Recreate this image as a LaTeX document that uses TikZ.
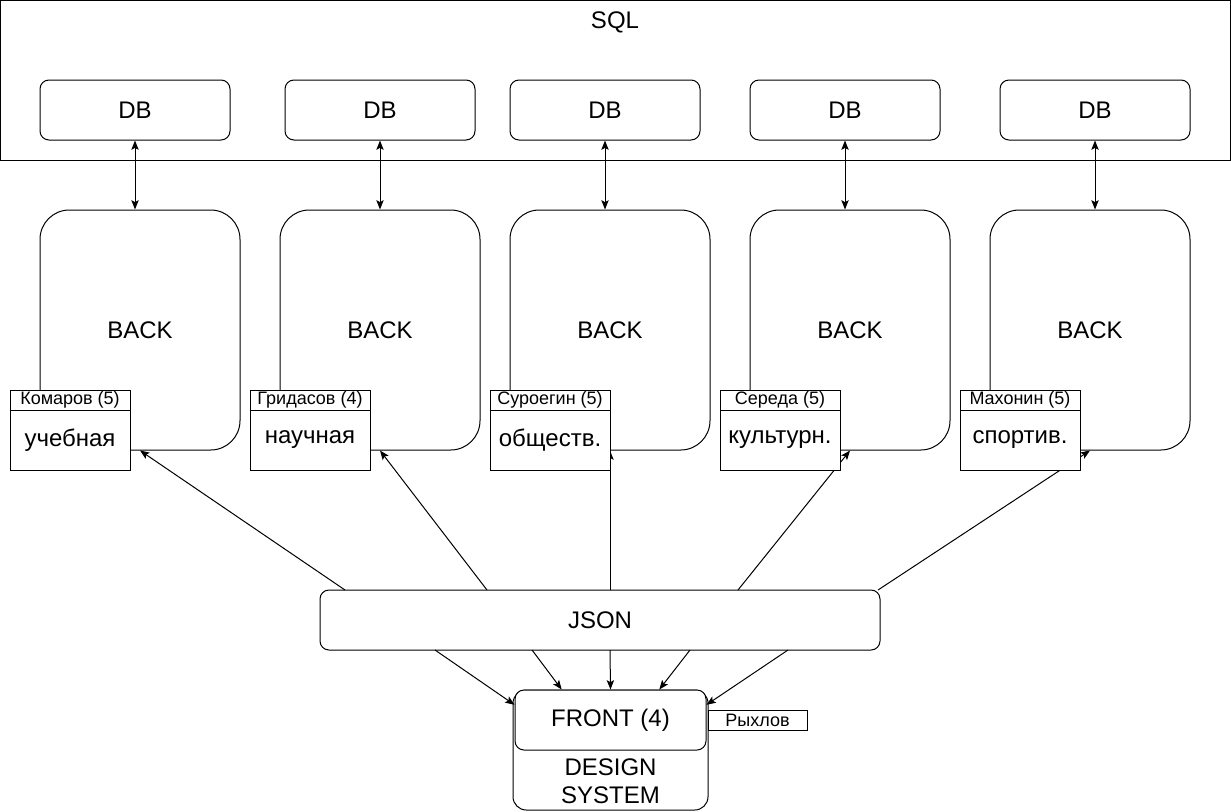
\documentclass[tikz,border=0pt]{standalone}
\usepackage{fontspec}
\setmainfont{Liberation Sans}
\usepackage{tikz}
\usetikzlibrary{arrows,arrows.meta,positioning}

\begin{document}
\begin{tikzpicture}[x=0.75pt,y=-0.75pt,line width=0.75pt,>={Stealth[length=7pt,width=5.5pt,inset=1.5pt]}]
	\useasboundingbox (0,0) rectangle (1231,811);
	\tikzset{box/.style={draw,fill=white,inner sep=0pt,font=\fontsize{18}{21}\selectfont}}
	\tikzstyle{dbbox}=[box,rounded corners=6.75pt,minimum width=142.5pt,minimum height=45pt]
	\tikzstyle{backbox}=[box,rounded corners=22pt,minimum width=150pt,minimum height=180pt]
	\tikzstyle{who}=[box,minimum width=90pt,minimum height=15pt,font=\fontsize{13.5}{15}\selectfont]
	\tikzstyle{area}=[box,minimum width=90pt,minimum height=45pt]

	%% SQL container
	\node[draw,minimum width=922.5pt,minimum height=119.6pt,inner sep=0pt] (sql) at (615.5,80.5) {};
	\node[font=\fontsize{18}{21}\selectfont] (sqltitle) at (615,22) {SQL};

	%% Databases
	\node[dbbox] (db1) at (135,110) {DB};
	\node[dbbox] (db2) at (380,110) {DB};
	\node[dbbox] (db3) at (605,110) {DB};
	\node[dbbox] (db4) at (845,110) {DB};
	\node[dbbox] (db5) at (1095,110) {DB};

	%% Backends
	\node[backbox] (back1) at (140,330) {BACK};
	\node[backbox] (back2) at (380,330) {BACK};
	\node[backbox] (back3) at (610,330) {BACK};
	\node[backbox] (back4) at (850,330) {BACK};
	\node[backbox] (back5) at (1090,330) {BACK};

	\draw[<->] (db1.south) -- (db1.south |- back1.north);
	\draw[<->] (db2.south) -- (db2.south |- back2.north);
	\draw[<->] (db3.south) -- (db3.south |- back3.north);
	\draw[<->] (db4.south) -- (db4.south |- back4.north);
	\draw[<->] (db5.south) -- (db5.south |- back5.north);

	%% JSON layer
	\node[box,rounded corners=6.75pt,minimum width=420pt,minimum height=45pt] (json) at (600,620) {JSON};
	\coordinate (up1) at (345,590);
	\coordinate (up2) at (487,590);
	\coordinate (up3) at (610,590);
	\coordinate (up4) at (738,590);
	\coordinate (up5) at (878,590);
	\draw[->] (up1) -- (back1.south);
	\draw[->] (up2) -- (back2.south);
	\draw[->] (up3) -- (back3.south);
	\draw[->] (up4) -- (back4.south);
	\draw[->] (up5) -- (back5.south);

	%% Owners and areas
	\node[who] (komarov) at (70,400) {Комаров (5)};
	\node[area] (ucheb) at (70,440) {учебная};
	\node[who] (gridasov) at (310,400) {Гридасов (4)};
	\node[area] (nauch) at (310,440) {научная};
	\node[who] (suroegin) at (550,400) {Суроегин (5)};
	\node[area] (obsch) at (550,440) {обществ.};
	\node[who] (sereda) at (780,400) {Середа (5)};
	\node[area] (kult) at (780,440) {культурн.};
	\node[who] (mahonin) at (1020,400) {Махонин (5)};
	\node[area] (sport) at (1020,440) {спортив.};

	%% Front and design system
	\node[box,rounded corners=10pt,minimum width=146.25pt,minimum height=90pt] (design) at (610.5,750) {};
	\node[align=center,font=\fontsize{18}{21}\selectfont] (designtext) at (610.5,781) {DESIGN\\SYSTEM};
	\node[box,rounded corners=6.75pt,minimum width=143.25pt,minimum height=45pt] (front) at (610.5,720) {FRONT (4)};
	\node[who,minimum width=74.25pt] (ryhlov) at (757.5,720) {Рыхлов};

	\coordinate (down1) at (435,650);
	\coordinate (down2) at (532,650);
	\coordinate (down3) at (610,650);
	\coordinate (down4) at (690,650);
	\coordinate (down5) at (788,650);
	\draw[->] (down1) -- (front.171);
	\draw[->] (down2) -- (front.148);
	\draw[->] (down3) -- (front.north);
	\draw[->] (down4) -- (front.32);
	\draw[->] (down5) -- (front.9);
\end{tikzpicture}
\end{document}
